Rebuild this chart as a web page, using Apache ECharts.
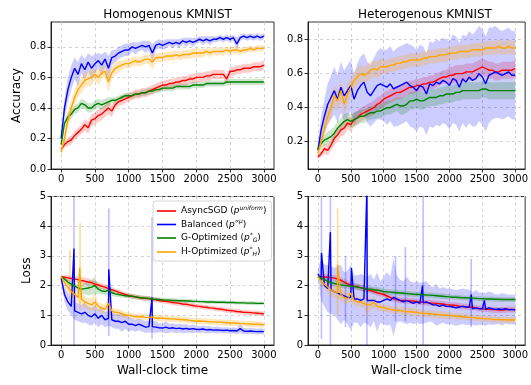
<!DOCTYPE html>
<html>
<head>
<meta charset="utf-8">
<script src="https://cdn.jsdelivr.net/npm/echarts@6/dist/echarts.min.js"></script>
<style>
  html, body { margin: 0; padding: 0; background: #fff; }
  #chart { width: 531px; height: 385px; }
</style>
</head>
<body>
<div id="chart"></div>
<script>
// ------------------------------
// DATA
// ------------------------------
const times = [0,50,100,150,200,250,300,350,400,450,500,550,600,650,700,750,800,850,900,950,
  1000,1050,1100,1150,1200,1250,1300,1350,1400,1450,1500,1550,1600,1650,1700,1750,1800,1850,1900,1950,
  2000,2050,2100,2150,2200,2250,2300,2350,2400,2450,2500,2550,2600,2650,2700,2750,2800,2850,2900,2950,3000];

const timeTicks = [0, 500, 1000, 1500, 2000, 2500, 3000];
const accTicksHom = [0, 0.2, 0.4, 0.6, 0.8];
const accTicksHet = [0.2, 0.4, 0.6, 0.8];
const lossTicks = [0, 1, 2, 3, 4, 5];

const methods = ["AsyncSGD", "Balanced", "G-Optimized", "H-Optimized"];
const legendLabels = [
  "AsyncSGD ({it|p}{sup|uniform})",
  "Balanced ({it|p}{sup|∝μ})",
  "G-Optimized ({it|p}{sup|*}{sub|G})",
  "H-Optimized ({it|p}{sup|*}{sub|H})"
];
const panelTitles = ["Homogenous KMNIST", "Heterogenous KMNIST"];

// Homogenous accuracy
const homAccRed = [0.13,0.16,0.18,0.19,0.22,0.24,0.26,0.29,0.27,0.32, 0.33,0.35,0.36,0.38,0.40,0.38,0.42,0.44,0.45,0.46,
  0.47,0.48,0.49,0.49,0.50,0.50,0.51,0.52,0.53,0.54, 0.55,0.55,0.56,0.56,0.57,0.57,0.58,0.58,0.59,0.59,
  0.60,0.60,0.60,0.61,0.61,0.62,0.62,0.62,0.62,0.59, 0.64,0.64,0.65,0.65,0.66,0.66,0.66,0.67,0.67,0.67, 0.68];
const homAccRedSd = [0.01,0.02,0.03,0.03,0.03,0.03,0.03,0.04,0.04,0.04, 0.04,0.04,0.04,0.04,0.04,0.04,0.03,0.03,0.03,0.03,
  0.03,0.03,0.03,0.03,0.03,0.03,0.03,0.03,0.03,0.03, 0.03,0.03,0.03,0.03,0.03,0.03,0.03,0.03,0.03,0.03,
  0.03,0.03,0.03,0.03,0.03,0.03,0.03,0.03,0.03,0.03, 0.03,0.03,0.03,0.03,0.03,0.03,0.03,0.03,0.03,0.03, 0.03];
const homAccBlue = [0.20,0.40,0.52,0.60,0.66,0.62,0.69,0.65,0.70,0.66, 0.69,0.71,0.68,0.72,0.66,0.73,0.74,0.76,0.77,0.78,
  0.78,0.80,0.79,0.80,0.81,0.80,0.81,0.76,0.81,0.82, 0.81,0.82,0.83,0.82,0.83,0.82,0.84,0.83,0.84,0.83,
  0.84,0.85,0.84,0.85,0.84,0.85,0.85,0.86,0.85,0.86, 0.85,0.86,0.82,0.86,0.87,0.86,0.87,0.86,0.87,0.86, 0.87];
const homAccBlueSd = [0.02,0.06,0.08,0.08,0.07,0.08,0.06,0.07,0.06,0.08, 0.06,0.05,0.07,0.05,0.08,0.05,0.04,0.04,0.04,0.04,
  0.04,0.03,0.04,0.03,0.03,0.04,0.03,0.06,0.03,0.03, 0.03,0.03,0.02,0.03,0.02,0.03,0.02,0.03,0.02,0.03,
  0.02,0.02,0.03,0.02,0.03,0.02,0.02,0.02,0.02,0.02, 0.02,0.02,0.04,0.02,0.02,0.02,0.02,0.02,0.02,0.02, 0.02];
const homAccGreen = [0.16,0.30,0.34,0.36,0.39,0.40,0.43,0.42,0.40,0.40, 0.42,0.43,0.42,0.43,0.44,0.45,0.45,0.46,0.47,0.48,
  0.48,0.48,0.49,0.49,0.50,0.50,0.51,0.51,0.52,0.52, 0.53,0.53,0.53,0.53,0.54,0.54,0.54,0.54,0.54,0.55,
  0.55,0.55,0.55,0.56,0.56,0.56,0.56,0.56,0.56,0.57, 0.57,0.57,0.57,0.57,0.57,0.57,0.57,0.57,0.57,0.57, 0.57];
const homAccGreenSd = [0.01,0.03,0.03,0.03,0.03,0.03,0.03,0.03,0.03,0.03, 0.03,0.03,0.03,0.03,0.03,0.02,0.02,0.02,0.02,0.02,
  0.02,0.02,0.02,0.02,0.02,0.02,0.02,0.02,0.02,0.02, 0.02,0.02,0.02,0.02,0.02,0.02,0.02,0.02,0.02,0.02,
  0.02,0.02,0.02,0.02,0.02,0.02,0.02,0.02,0.02,0.02, 0.02,0.02,0.02,0.02,0.02,0.02,0.02,0.02,0.02,0.02, 0.02];
const homAccOrange = [0.11,0.20,0.32,0.40,0.47,0.52,0.55,0.58,0.59,0.60, 0.62,0.60,0.63,0.64,0.57,0.63,0.66,0.67,0.68,0.69,
  0.69,0.70,0.71,0.70,0.71,0.72,0.72,0.70,0.73,0.73, 0.73,0.74,0.74,0.74,0.75,0.74,0.75,0.75,0.75,0.76,
  0.76,0.76,0.76,0.77,0.76,0.77,0.77,0.77,0.77,0.78, 0.77,0.78,0.78,0.77,0.78,0.78,0.79,0.78,0.79,0.79, 0.79];
const homAccOrangeSd = [0.02,0.04,0.05,0.05,0.05,0.05,0.05,0.05,0.05,0.05, 0.04,0.05,0.04,0.04,0.07,0.04,0.04,0.04,0.03,0.03,
  0.03,0.03,0.03,0.03,0.03,0.03,0.03,0.05,0.03,0.03, 0.03,0.03,0.03,0.03,0.03,0.03,0.03,0.03,0.03,0.03,
  0.03,0.03,0.03,0.02,0.03,0.02,0.03,0.02,0.03,0.02, 0.03,0.02,0.03,0.02,0.02,0.02,0.02,0.02,0.02,0.02, 0.02];

// Heterogenous accuracy
const hetAccRed = [0.11,0.13,0.16,0.15,0.18,0.22,0.24,0.27,0.28,0.31, 0.30,0.33,0.34,0.36,0.37,0.38,0.39,0.40,0.42,0.43,
  0.45,0.46,0.47,0.48,0.49,0.49,0.50,0.51,0.52,0.52, 0.53,0.53,0.54,0.54,0.55,0.55,0.56,0.57,0.58,0.58,
  0.59,0.59,0.60,0.60,0.60,0.61,0.61,0.61,0.62,0.63, 0.64,0.63,0.62,0.62,0.61,0.61,0.62,0.62,0.62,0.62, 0.63];
const hetAccRedSd = [0.01,0.02,0.03,0.03,0.03,0.04,0.04,0.04,0.04,0.04, 0.04,0.04,0.04,0.04,0.04,0.04,0.04,0.04,0.04,0.04,
  0.04,0.04,0.04,0.04,0.04,0.04,0.04,0.04,0.04,0.04, 0.04,0.04,0.04,0.04,0.04,0.04,0.04,0.04,0.04,0.04,
  0.05,0.05,0.05,0.05,0.05,0.05,0.05,0.05,0.05,0.05, 0.05,0.05,0.05,0.05,0.05,0.05,0.05,0.05,0.05,0.05, 0.05];
const hetAccBlue = [0.15,0.27,0.35,0.42,0.46,0.50,0.45,0.52,0.47,0.50, 0.53,0.45,0.50,0.53,0.55,0.49,0.47,0.50,0.53,0.54,
  0.53,0.52,0.54,0.51,0.52,0.53,0.54,0.55,0.53,0.52, 0.50,0.53,0.52,0.48,0.54,0.53,0.55,0.54,0.56,0.55,
  0.53,0.57,0.56,0.52,0.57,0.55,0.58,0.56,0.57,0.60, 0.58,0.54,0.59,0.60,0.61,0.60,0.59,0.60,0.61,0.59, 0.59];
const hetAccBlueSd = [0.03,0.08,0.10,0.12,0.13,0.14,0.14,0.15,0.15,0.15, 0.15,0.15,0.16,0.17,0.17,0.18,0.18,0.19,0.20,0.21,
  0.21,0.22,0.22,0.22,0.23,0.23,0.23,0.23,0.24,0.24, 0.24,0.24,0.24,0.24,0.25,0.25,0.25,0.25,0.25,0.25,
  0.26,0.26,0.26,0.26,0.26,0.27,0.27,0.27,0.28,0.28, 0.28,0.28,0.28,0.27,0.27,0.26,0.26,0.26,0.26,0.26, 0.26];
const hetAccGreen = [0.16,0.19,0.21,0.22,0.23,0.25,0.28,0.30,0.32,0.33, 0.32,0.33,0.34,0.35,0.35,0.36,0.37,0.37,0.38,0.38,
  0.39,0.40,0.40,0.41,0.42,0.41,0.41,0.42,0.44,0.44, 0.45,0.44,0.44,0.45,0.46,0.46,0.46,0.47,0.47,0.48,
  0.48,0.48,0.49,0.49,0.50,0.50,0.50,0.50,0.50,0.50, 0.51,0.51,0.50,0.50,0.50,0.50,0.50,0.50,0.50,0.50, 0.50];
const hetAccGreenSd = [0.02,0.03,0.03,0.04,0.04,0.04,0.04,0.04,0.04,0.04, 0.04,0.04,0.04,0.04,0.04,0.04,0.04,0.04,0.04,0.04,
  0.04,0.04,0.04,0.04,0.04,0.05,0.05,0.05,0.05,0.05, 0.05,0.05,0.05,0.05,0.05,0.05,0.05,0.05,0.05,0.05,
  0.05,0.05,0.05,0.05,0.05,0.05,0.05,0.05,0.05,0.05, 0.05,0.05,0.05,0.05,0.05,0.05,0.05,0.05,0.05,0.05, 0.05];
const hetAccOrange = [0.13,0.20,0.28,0.35,0.40,0.47,0.44,0.50,0.42,0.48, 0.52,0.56,0.58,0.60,0.59,0.60,0.62,0.63,0.62,0.64,
  0.64,0.64,0.65,0.65,0.66,0.66,0.67,0.67,0.68,0.68, 0.68,0.68,0.69,0.69,0.70,0.70,0.70,0.71,0.71,0.71,
  0.72,0.72,0.72,0.73,0.73,0.73,0.73,0.74,0.74,0.74, 0.74,0.75,0.75,0.75,0.75,0.76,0.75,0.75,0.76,0.75, 0.75];
const hetAccOrangeSd = [0.02,0.04,0.05,0.05,0.06,0.06,0.06,0.06,0.07,0.06, 0.05,0.05,0.05,0.05,0.05,0.05,0.05,0.05,0.05,0.05,
  0.04,0.04,0.04,0.04,0.04,0.04,0.04,0.04,0.04,0.04, 0.04,0.04,0.04,0.04,0.04,0.04,0.04,0.04,0.04,0.04,
  0.04,0.04,0.04,0.04,0.04,0.04,0.04,0.04,0.04,0.04, 0.04,0.04,0.04,0.04,0.04,0.04,0.04,0.04,0.04,0.04, 0.04];

// Homogenous loss
const homLossRed = [2.30,2.28,2.26,2.24,2.22,2.20,2.17,2.15,2.12,2.10, 2.05,2.02,1.98,1.95,1.90,1.86,1.82,1.78,1.74,1.70,
  1.66,1.64,1.62,1.60,1.58,1.57,1.56,1.54,1.52,1.50, 1.48,1.47,1.45,1.43,1.42,1.40,1.38,1.37,1.35,1.33,
  1.31,1.30,1.28,1.27,1.25,1.24,1.22,1.21,1.19,1.17, 1.16,1.15,1.13,1.12,1.10,1.10,1.09,1.08,1.07,1.06, 1.05];
const homLossRedSd = [0.02,0.08,0.10,0.10,0.10,0.10,0.12,0.12,0.12,0.10, 0.10,0.10,0.10,0.10,0.10,0.10,0.08,0.08,0.08,0.08,
  0.08,0.08,0.08,0.08,0.08,0.08,0.08,0.08,0.08,0.08, 0.08,0.08,0.08,0.08,0.08,0.08,0.08,0.08,0.08,0.08,
  0.08,0.08,0.08,0.08,0.08,0.08,0.08,0.08,0.08,0.08, 0.08,0.08,0.08,0.08,0.08,0.08,0.08,0.08,0.08,0.08, 0.08];
const homLossBlue = [2.25,1.70,1.45,1.30,1.15,1.10,1.05,1.10,1.00,0.95, 1.05,0.90,1.00,0.85,0.90,0.85,0.80,0.80,0.75,0.80,
  0.70,0.70,0.65,0.70,0.65,0.60,0.62,0.62,0.60,0.58, 0.57,0.60,0.56,0.58,0.55,0.57,0.54,0.56,0.53,0.55,
  0.53,0.52,0.54,0.51,0.52,0.50,0.51,0.50,0.49,0.50, 0.48,0.49,0.47,0.55,0.47,0.46,0.47,0.46,0.45,0.46, 0.45];
const homLossBlueSd = [0.05,0.25,0.30,0.30,0.30,0.30,0.30,0.35,0.30,0.30, 0.30,0.30,0.30,0.25,0.25,0.25,0.25,0.25,0.30,0.25,
  0.25,0.20,0.20,0.20,0.20,0.20,0.20,0.20,0.20,0.15, 0.15,0.20,0.15,0.15,0.15,0.15,0.15,0.15,0.12,0.15,
  0.12,0.12,0.12,0.12,0.12,0.10,0.12,0.10,0.10,0.10, 0.10,0.10,0.10,0.15,0.10,0.10,0.10,0.10,0.10,0.10, 0.10];
const homLossGreen = [2.30,2.22,2.12,2.05,1.98,1.92,1.88,1.90,1.92,1.95, 2.00,1.88,1.82,1.80,1.85,1.76,1.72,1.70,1.68,1.66,
  1.65,1.64,1.62,1.60,1.59,1.58,1.57,1.55,1.54,1.53, 1.52,1.51,1.51,1.50,1.50,1.49,1.49,1.48,1.48,1.47,
  1.47,1.46,1.46,1.45,1.45,1.45,1.44,1.44,1.44,1.43, 1.43,1.43,1.42,1.42,1.42,1.41,1.41,1.41,1.40,1.40, 1.40];
const homLossGreenSd = [0.02,0.08,0.10,0.10,0.12,0.12,0.15,0.20,0.25,0.25, 0.30,0.15,0.12,0.12,0.15,0.10,0.10,0.08,0.08,0.08,
  0.08,0.08,0.08,0.08,0.08,0.08,0.08,0.08,0.07,0.07, 0.07,0.07,0.07,0.07,0.07,0.07,0.07,0.07,0.07,0.07,
  0.06,0.06,0.06,0.06,0.06,0.06,0.06,0.06,0.06,0.06, 0.06,0.06,0.06,0.06,0.06,0.06,0.06,0.06,0.06,0.06, 0.06];
const homLossOrange = [2.30,2.10,1.95,1.80,1.70,1.60,1.55,1.45,1.40,1.35, 1.45,1.30,1.25,1.20,1.40,1.15,1.10,1.10,1.05,1.00,
  1.00,0.98,0.95,0.96,0.95,0.93,0.92,0.95,0.90,0.91, 0.90,0.89,0.88,0.88,0.87,0.86,0.85,0.85,0.83,0.82,
  0.80,0.81,0.80,0.79,0.78,0.78,0.77,0.77,0.76,0.75, 0.74,0.74,0.73,0.72,0.72,0.71,0.71,0.70,0.70,0.69, 0.68];
const homLossOrangeSd = [0.05,0.15,0.20,0.20,0.20,0.20,0.20,0.20,0.20,0.20, 0.30,0.15,0.15,0.15,0.30,0.12,0.12,0.12,0.12,0.10,
  0.10,0.10,0.10,0.10,0.10,0.10,0.10,0.10,0.10,0.10, 0.10,0.10,0.10,0.10,0.10,0.10,0.10,0.10,0.10,0.10,
  0.10,0.10,0.10,0.10,0.10,0.10,0.10,0.10,0.10,0.10, 0.10,0.10,0.10,0.10,0.10,0.10,0.10,0.10,0.10,0.10, 0.10];

// Heterogenous loss
const hetLossRed = [2.30,2.30,2.29,2.28,2.27,2.25,2.22,2.18,2.12,2.06, 2.02,1.98,1.96,1.93,1.90,1.86,1.84,1.80,1.76,1.73,
  1.70,1.65,1.60,1.56,1.53,1.50,1.50,1.49,1.48,1.48, 1.46,1.45,1.44,1.43,1.42,1.41,1.40,1.39,1.38,1.36,
  1.35,1.34,1.33,1.31,1.30,1.29,1.28,1.27,1.25,1.23, 1.22,1.21,1.20,1.19,1.19,1.18,1.18,1.19,1.20,1.19, 1.20];
const hetLossRedSd = [0.02,0.10,0.10,0.10,0.10,0.10,0.10,0.10,0.10,0.10, 0.10,0.10,0.10,0.10,0.10,0.10,0.10,0.10,0.10,0.10,
  0.10,0.10,0.10,0.10,0.10,0.10,0.10,0.10,0.10,0.10, 0.10,0.10,0.10,0.10,0.10,0.10,0.10,0.10,0.10,0.10,
  0.10,0.10,0.10,0.10,0.10,0.10,0.10,0.10,0.10,0.10, 0.10,0.10,0.10,0.10,0.10,0.10,0.10,0.10,0.10,0.10, 0.10];
const hetLossBlue = [2.40,2.20,2.00,1.90,1.85,1.80,1.75,1.70,1.65,1.60, 1.60,1.55,1.55,1.50,1.55,1.50,1.50,1.50,1.45,1.45,
  1.50,1.55,1.50,1.60,1.55,1.50,1.45,1.50,1.45,1.40, 1.45,1.40,1.42,1.45,1.40,1.35,1.35,1.30,1.35,1.30,
  1.30,1.28,1.25,1.28,1.30,1.28,1.27,1.22,1.25,1.22, 1.22,1.20,1.25,1.22,1.20,1.21,1.20,1.22,1.19,1.20, 1.18];
const hetLossBlueSd = [0.15,0.70,0.70,0.80,0.80,0.80,0.90,1.00,0.80,0.90, 1.10,0.80,0.80,0.90,0.80,0.80,0.90,0.70,1.00,0.70,
  0.80,0.90,0.80,1.30,0.80,0.70,0.70,0.80,0.70,0.70, 0.70,0.70,0.70,0.70,0.60,0.60,0.70,0.60,0.60,0.60,
  0.60,0.60,0.60,0.60,0.60,0.60,0.60,0.55,0.60,0.55, 0.55,0.55,0.55,0.55,0.50,0.50,0.55,0.50,0.50,0.50, 0.50];
const hetLossGreen = [2.30,2.25,2.20,2.15,2.10,2.07,2.05,2.03,2.00,2.00, 1.98,1.97,1.95,1.93,1.90,1.88,1.88,1.86,1.85,1.83,
  1.80,1.79,1.78,1.77,1.76,1.75,1.74,1.73,1.72,1.71, 1.70,1.70,1.69,1.68,1.68,1.67,1.66,1.65,1.64,1.63,
  1.62,1.61,1.61,1.60,1.59,1.59,1.58,1.58,1.57,1.56, 1.56,1.55,1.55,1.55,1.54,1.54,1.53,1.53,1.53,1.53, 1.53];
const hetLossGreenSd = [0.02,0.08,0.10,0.10,0.10,0.10,0.10,0.10,0.10,0.10, 0.10,0.10,0.10,0.10,0.10,0.10,0.10,0.10,0.10,0.10,
  0.09,0.09,0.09,0.09,0.09,0.09,0.09,0.09,0.09,0.09, 0.09,0.09,0.09,0.09,0.09,0.09,0.09,0.09,0.09,0.09,
  0.08,0.08,0.08,0.08,0.08,0.08,0.08,0.08,0.08,0.08, 0.08,0.08,0.08,0.08,0.08,0.08,0.08,0.08,0.08,0.08, 0.08];
const hetLossOrange = [2.30,2.15,2.05,1.95,1.85,1.80,1.75,1.70,1.60,1.55, 1.75,1.50,1.45,1.45,1.40,1.35,1.35,1.45,1.30,1.28,
  1.25,1.22,1.20,1.18,1.17,1.16,1.14,1.13,1.12,1.11, 1.10,1.08,1.07,1.06,1.05,1.04,1.03,1.02,1.01,1.00,
  1.00,0.98,0.97,0.96,0.95,0.94,0.93,0.92,0.91,0.90, 0.89,0.88,0.88,0.87,0.86,0.86,0.85,0.85,0.84,0.85, 0.84];
const hetLossOrangeSd = [0.05,0.15,0.15,0.20,0.20,0.20,0.20,0.20,0.20,0.20, 0.30,0.15,0.15,0.15,0.15,0.40,0.15,0.20,0.12,0.12,
  0.12,0.12,0.12,0.12,0.12,0.12,0.12,0.12,0.12,0.12, 0.12,0.12,0.12,0.12,0.12,0.12,0.12,0.12,0.12,0.12,
  0.10,0.10,0.10,0.10,0.10,0.10,0.10,0.10,0.10,0.10, 0.10,0.10,0.10,0.10,0.10,0.10,0.10,0.10,0.10,0.10, 0.10];

// short spikes on the mean curves: [time, value]
const homLossBlueSpikes = [[190, 3.25], [705, 2.55], [1345, 1.6]];
const homLossOrangeSpikes = [[275, 2.6]];
const hetLossBlueSpikes = [[55, 3.1], [190, 3.8], [510, 2.6], [745, 5.3], [1590, 2.0], [2330, 1.7], [2530, 1.5]];
const hetLossOrangeSpikes = [[300, 2.7]];

// thin vertical streaks in the shaded bands: [time, low, high]
const homLossBlueStreaks = [[190, 0, 5.2], [705, 0.3, 4.6], [1345, 0.2, 4.3]];
const homLossOrangeStreaks = [[130, 1.6, 3.2], [280, 1.2, 4.1]];
const hetLossBlueStreaks = [[55, 0.2, 5.2], [190, 0, 5.2], [420, 0.6, 3.0], [745, 0, 5.2], [1180, 0.8, 3.0],
  [1330, 0.8, 3.3], [1600, 0, 5.2], [2330, 0.6, 2.9]];
const hetLossOrangeStreaks = [[300, 1.0, 4.6]];

// ------------------------------
// STYLE
// ------------------------------
const FONT = "DejaVu Sans";
const lineColors = ["#ff0000", "#0000ff", "#008000", "#ffa500"];
const bandColors = ["rgba(255,0,0,0.2)", "rgba(0,0,255,0.2)", "rgba(0,128,0,0.2)", "rgba(255,165,0,0.25)"];
const streakColors = ["rgba(255,0,0,0.3)", "rgba(0,0,255,0.25)", "rgba(0,128,0,0.3)", "rgba(255,165,0,0.4)"];

// panel order: top-left, top-right, bottom-left, bottom-right
const panels = [
  { means: [homAccRed, homAccBlue, homAccGreen, homAccOrange], sds: [homAccRedSd, homAccBlueSd, homAccGreenSd, homAccOrangeSd],
    spikes: [[], [], [], []], streaks: [[], [], [], []],
    ymin: 0, ymax: 0.963, ticks: accTicksHom, grid: { left: 51, top: 22, width: 223, height: 147 } },
  { means: [hetAccRed, hetAccBlue, hetAccGreen, hetAccOrange], sds: [hetAccRedSd, hetAccBlueSd, hetAccGreenSd, hetAccOrangeSd],
    spikes: [[], [], [], []], streaks: [[], [], [], []],
    ymin: 0.04, ymax: 0.903, ticks: accTicksHet, grid: { left: 308, top: 22, width: 224, height: 147 } },
  { means: [homLossRed, homLossBlue, homLossGreen, homLossOrange], sds: [homLossRedSd, homLossBlueSd, homLossGreenSd, homLossOrangeSd],
    spikes: [[], homLossBlueSpikes, [], homLossOrangeSpikes], streaks: [[], homLossBlueStreaks, [], homLossOrangeStreaks],
    ymin: 0, ymax: 5, ticks: lossTicks, grid: { left: 51, top: 196.5, width: 223, height: 148.5 } },
  { means: [hetLossRed, hetLossBlue, hetLossGreen, hetLossOrange], sds: [hetLossRedSd, hetLossBlueSd, hetLossGreenSd, hetLossOrangeSd],
    spikes: [[], hetLossBlueSpikes, [], hetLossOrangeSpikes], streaks: [[], hetLossBlueStreaks, [], hetLossOrangeStreaks],
    ymin: 0, ymax: 5, ticks: lossTicks, grid: { left: 308, top: 196.5, width: 224, height: 148.5 } }
];

let clipRect = cs => ({ type: "rect", shape: { x: cs.x, y: cs.y, width: cs.width, height: cs.height } });

// band polygon (mean ± sd), drawn once per series through the axis scales
let bandRenderer = (lo, hi, fill) => (params, api) => {
  if (params.dataIndex !== 0) return null;
  let top = times.map((t, i) => api.coord([t, hi[i]]));
  let bottom = times.map((t, i) => api.coord([t, lo[i]])).reverse();
  return {
    type: "polygon",
    shape: { points: top.concat(bottom) },
    style: { fill: fill, stroke: null },
    clipPath: clipRect(params.coordSys)
  };
};

// thin vertical streak from low to high
let streakRenderer = color => (params, api) => {
  let a = api.coord([api.value(0), api.value(1)]);
  let b = api.coord([api.value(0), api.value(2)]);
  return {
    type: "line",
    shape: { x1: a[0], y1: a[1], x2: b[0], y2: b[1] },
    style: { stroke: color, lineWidth: 1.6 },
    clipPath: clipRect(params.coordSys)
  };
};

let grids = [], xAxes = [], yAxes = [], series = [];

panels.forEach((p, pi) => {
  grids.push(Object.assign({ show: true, borderColor: "#000", borderWidth: 0.8, backgroundColor: "#fff" }, p.grid));

  xAxes.push({
    type: "value", gridIndex: pi, min: -150, max: 3150,
    name: pi >= 2 ? "Wall-clock time" : "", nameLocation: "middle", nameGap: 20,
    nameTextStyle: { fontFamily: FONT, fontSize: 12, color: "#000" },
    axisLine: { show: true, onZero: false, lineStyle: { color: "#000", width: 0.8 } },
    axisTick: { show: true, length: 3.5, customValues: timeTicks, lineStyle: { color: "#000", width: 0.8 } },
    axisLabel: { customValues: timeTicks, fontFamily: FONT, fontSize: 10, color: "#000", margin: 5,
      formatter: v => String(v) },
    splitLine: { show: true, lineStyle: { color: "#c8c8c8", type: [3, 3], width: 0.8 } }
  });

  let isAcc = pi < 2;
  yAxes.push({
    type: "value", gridIndex: pi, min: p.ymin, max: p.ymax,
    interval: isAcc ? undefined : 1,
    name: pi === 0 ? "Accuracy" : (pi === 2 ? "Loss" : ""),
    nameLocation: "middle", nameGap: pi === 0 ? 28 : 18,
    nameTextStyle: { fontFamily: FONT, fontSize: 12, color: "#000" },
    axisLine: { show: true, onZero: false, lineStyle: { color: "#000", width: 0.8 } },
    axisTick: { show: true, length: 3.5, customValues: p.ticks, lineStyle: { color: "#000", width: 0.8 } },
    axisLabel: {
      customValues: p.ticks, fontFamily: FONT, fontSize: 10, color: "#000", margin: 5,
      formatter: v => isAcc ? v.toFixed(1) : String(v)
    },
    splitLine: { show: true, lineStyle: { color: "#c8c8c8", type: [3, 3], width: 0.8 } }
  });

  p.means.forEach((mean, mi) => {
    let sd = p.sds[mi];
    let lo = mean.map((v, i) => v - sd[i]);
    let hi = mean.map((v, i) => v + sd[i]);
    series.push({
      type: "custom", name: "_band" + pi + mi, xAxisIndex: pi, yAxisIndex: pi, silent: true,
      data: times.map((t, i) => [t, mean[i]]),
      encode: { x: 0, y: 1 },
      renderItem: bandRenderer(lo, hi, bandColors[mi])
    });
    if (p.streaks[mi].length) {
      series.push({
        type: "custom", name: "_streak" + pi + mi, xAxisIndex: pi, yAxisIndex: pi, silent: true,
        data: p.streaks[mi],
        encode: { x: 0, y: [1, 2] },
        renderItem: streakRenderer(streakColors[mi])
      });
    }
    let pts = times.map((t, i) => [t, mean[i]]).concat(p.spikes[mi]).sort((a, b) => a[0] - b[0]);
    series.push({
      type: "line", name: methods[mi], xAxisIndex: pi, yAxisIndex: pi,
      data: pts, showSymbol: false, symbol: "none",
      color: lineColors[mi], lineStyle: { color: lineColors[mi], width: 1.4 }
    });
  });
});

let chart = echarts.init(document.getElementById("chart"), null, { renderer: "canvas" });
chart.setOption({
  animation: false,
  backgroundColor: "#fff",
  title: [
    { text: panelTitles[0], left: 162.5, top: 4, textAlign: "center",
      textStyle: { fontFamily: FONT, fontSize: 12, fontWeight: "normal", color: "#000" } },
    { text: panelTitles[1], left: 420, top: 4, textAlign: "center",
      textStyle: { fontFamily: FONT, fontSize: 12, fontWeight: "normal", color: "#000" } }
  ],
  legend: {
    data: methods, orient: "vertical", left: 153, top: 201,
    icon: "rect", itemWidth: 19, itemHeight: 1.6, itemGap: 3,
    padding: [4, 5, 4, 4],
    backgroundColor: "rgba(255,255,255,0.85)", borderColor: "#cccccc", borderWidth: 0.8, borderRadius: 3,
    formatter: name => legendLabels[methods.indexOf(name)],
    textStyle: {
      fontFamily: FONT, fontSize: 9, color: "#000",
      rich: {
        it: { fontFamily: FONT, fontSize: 9, fontStyle: "italic", color: "#000" },
        sup: { fontFamily: FONT, fontSize: 6, fontStyle: "italic", color: "#000", padding: [0, 0, 6, 0] },
        sub: { fontFamily: FONT, fontSize: 6, fontStyle: "italic", color: "#000", padding: [4, 0, 0, 0] }
      }
    }
  },
  grid: grids,
  xAxis: xAxes,
  yAxis: yAxes,
  series: series
});
</script>
</body>
</html>
